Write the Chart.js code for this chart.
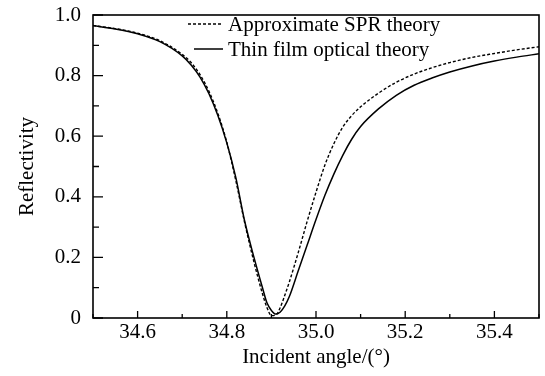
<!DOCTYPE html>
<html>
<head>
<meta charset="utf-8">
<script src="https://cdn.jsdelivr.net/npm/chart.js@4/dist/chart.umd.min.js"></script>
<style>
  html, body { margin: 0; padding: 0; background: #fff; }
  #wrap { width: 545px; height: 376px; }
</style>
</head>
<body>
<div id="wrap"><canvas id="chart" width="545" height="376"></canvas></div>
<script>
// incident angle (deg) and reflectivity
const angles = [34.50, 34.55, 34.60, 34.65, 34.70, 34.72, 34.74, 34.76, 34.78, 34.80,
                34.82, 34.84, 34.86, 34.88, 34.89, 34.90, 34.91, 34.92, 34.93, 34.94,
                34.96, 34.98, 35.00, 35.02, 35.04, 35.06, 35.08, 35.10, 35.14, 35.18,
                35.22, 35.26, 35.30, 35.35, 35.40, 35.45, 35.50];

const sprTheory = [0.965, 0.955, 0.940, 0.915, 0.870, 0.843, 0.803, 0.748, 0.675, 0.580,
                   0.455, 0.315, 0.190, 0.080, 0.035, 0.008, 0.010, 0.035, 0.075, 0.118,
                   0.215, 0.318, 0.415, 0.505, 0.575, 0.630, 0.668, 0.697, 0.742, 0.778,
                   0.805, 0.826, 0.843, 0.860, 0.873, 0.885, 0.895];

const filmTheory = [0.965, 0.954, 0.938, 0.912, 0.865, 0.835, 0.795, 0.740, 0.668, 0.578,
                    0.465, 0.320, 0.205, 0.100, 0.050, 0.025, 0.013, 0.020, 0.040, 0.070,
                    0.155, 0.240, 0.325, 0.405, 0.475, 0.537, 0.590, 0.632, 0.690, 0.735,
                    0.768, 0.792, 0.812, 0.832, 0.848, 0.861, 0.872];

const seriesNames = ['Approximate SPR theory', 'Thin film optical theory'];

const serif = "'Liberation Serif', 'Times New Roman', serif";

function toPoints(ys) {
    return angles.map((a, i) => ({ x: a, y: ys[i] }));
}

// frame, inward ticks and legend drawn after the chart
const framePlugin = {
    id: 'frame',
    afterDraw(chart) {
        const ctx = chart.ctx;
        const area = chart.chartArea;
        const xs = chart.scales.x;
        const ys = chart.scales.y;
        ctx.save();
        ctx.strokeStyle = '#000';
        ctx.lineWidth = 1.6;
        ctx.strokeRect(area.left, area.top, area.right - area.left, area.bottom - area.top);

        ctx.lineWidth = 1.3;
        ctx.beginPath();
        xs.ticks.forEach(t => {
            const px = xs.getPixelForValue(t.value);
            const major = Math.round(t.value * 10) % 2 === 0;
            ctx.moveTo(px, area.bottom);
            ctx.lineTo(px, area.bottom - (major ? 7 : 4));
        });
        ys.ticks.forEach(t => {
            const py = ys.getPixelForValue(t.value);
            const major = Math.round(t.value * 10) % 2 === 0;
            ctx.moveTo(area.left, py);
            ctx.lineTo(area.left + (major ? 10 : 6), py);
        });
        ctx.stroke();

        // legend
        ctx.font = '21px ' + serif;
        ctx.fillStyle = '#000';
        ctx.textBaseline = 'middle';
        const rows = [{ y: 24, x0: 188 }, { y: 49, x0: 194 }];
        chart.data.datasets.forEach((ds, i) => {
            const r = rows[i];
            ctx.beginPath();
            ctx.setLineDash(ds.borderDash || []);
            ctx.lineWidth = ds.borderWidth;
            ctx.moveTo(r.x0, r.y);
            ctx.lineTo(223, r.y);
            ctx.stroke();
            ctx.setLineDash([]);
            ctx.fillText(ds.label, 228, r.y + 1);
        });
        ctx.restore();
    }
};

new Chart(document.getElementById('chart'), {
    type: 'line',
    data: {
        datasets: [
            {
                label: seriesNames[0],
                data: toPoints(sprTheory),
                borderColor: '#000',
                borderWidth: 1.4,
                borderDash: [3, 2],
                pointRadius: 0,
                cubicInterpolationMode: 'monotone'
            },
            {
                label: seriesNames[1],
                data: toPoints(filmTheory),
                borderColor: '#000',
                borderWidth: 1.5,
                pointRadius: 0,
                cubicInterpolationMode: 'monotone'
            }
        ]
    },
    options: {
        responsive: false,
        animation: false,
        layout: { padding: { top: 15, right: 6, left: 0, bottom: 0 } },
        plugins: {
            legend: { display: false },
            tooltip: { enabled: false }
        },
        scales: {
            x: {
                type: 'linear',
                min: 34.5,
                max: 35.5,
                grid: { display: false, drawTicks: false },
                border: { display: false },
                ticks: {
                    stepSize: 0.1,
                    autoSkip: false,
                    maxRotation: 0,
                    padding: 2,
                    color: '#000',
                    font: { family: serif, size: 21 },
                    callback: v => Math.round(v * 10) % 2 === 0 && v > 34.55 && v < 35.45 ? v.toFixed(1) : ''
                },
                title: {
                    display: true,
                    text: 'Incident angle/(°)',
                    color: '#000',
                    font: { family: serif, size: 21 },
                    padding: { top: 0, bottom: 6 }
                },
                afterFit(scale) {
                    scale.height = 58;
                    scale.paddingLeft = 0;
                    scale.paddingRight = 0;
                }
            },
            y: {
                min: 0,
                max: 1,
                grid: { display: false, drawTicks: false },
                border: { display: false },
                ticks: {
                    stepSize: 0.1,
                    autoSkip: false,
                    padding: 12,
                    color: '#000',
                    font: { family: serif, size: 21 },
                    callback: v => {
                        if (Math.round(v * 10) % 2 !== 0) return '';
                        return v === 0 ? '0' : v.toFixed(1);
                    }
                },
                title: {
                    display: true,
                    text: 'Reflectivity',
                    color: '#000',
                    font: { family: serif, size: 21 },
                    padding: { top: 15, bottom: 0 }
                },
                afterFit(scale) {
                    scale.width = 93;
                    scale.paddingTop = 0;
                    scale.paddingBottom = 0;
                }
            }
        }
    },
    plugins: [framePlugin]
});
</script>
</body>
</html>
